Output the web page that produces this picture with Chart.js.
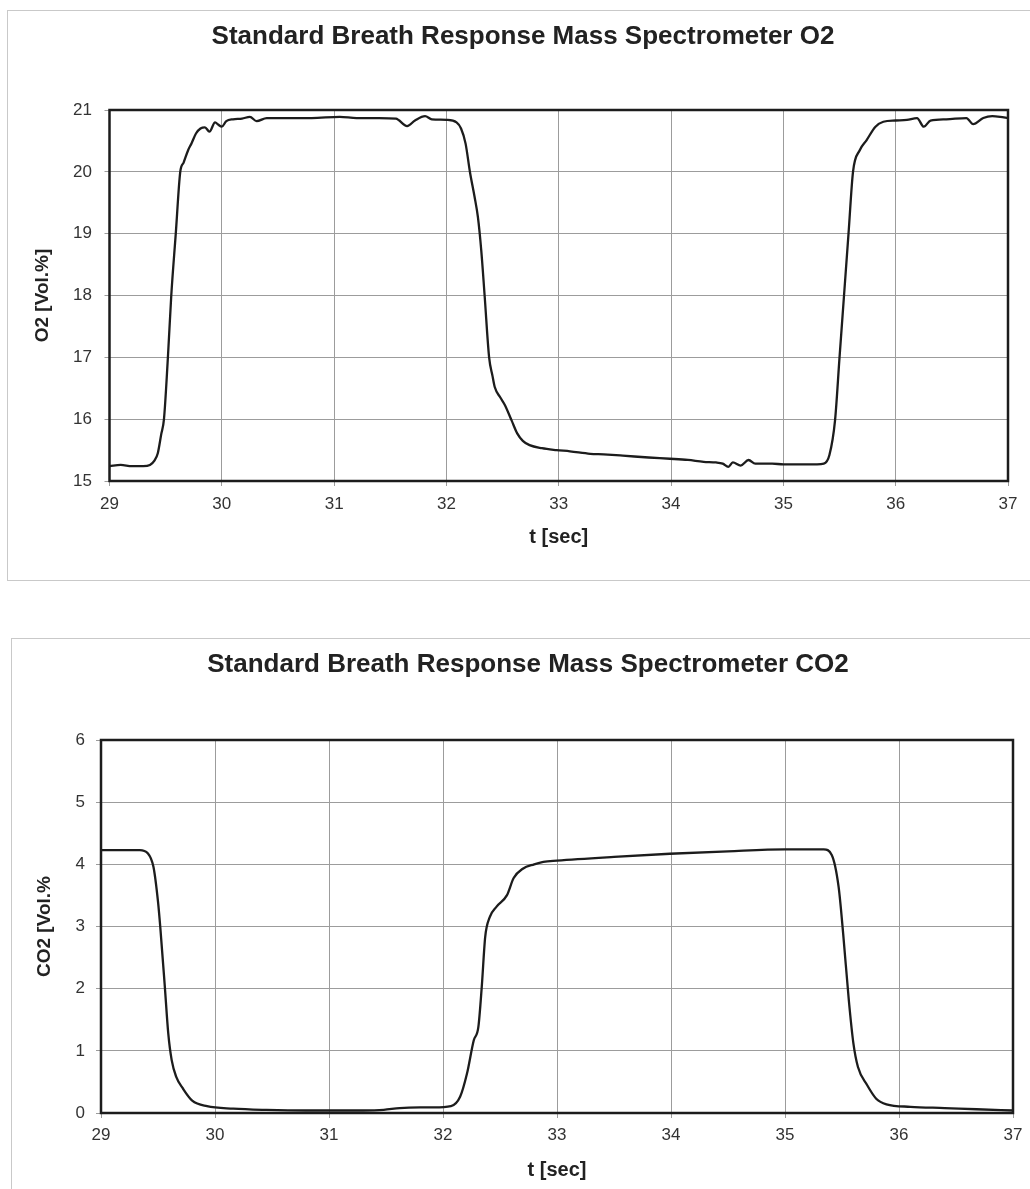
<!DOCTYPE html>
<html lang="en">
<head>
<meta charset="UTF-8">
<title>Standard Breath Response Mass Spectrometer</title>
<script src="https://cdn.jsdelivr.net/npm/chart.js@4.4.1/dist/chart.umd.min.js"></script>
<style>
    html, body { margin: 0; padding: 0; background: #fff; width: 1030px; height: 1189px; overflow: hidden; position: relative; }
    .panel { position: absolute; border: 1.5px solid #c9c9c9; background: #fff; }
    #panelO2 { left: 7px; top: 10px; width: 1040px; height: 569px; }
    #panelCO2 { left: 11px; top: 638px; width: 1040px; height: 600px; }
    .wrap { position: absolute; left: 0; width: 1030px; }
    #wrapO2 { top: 0; height: 590px; }
    #wrapCO2 { top: 620px; height: 569px; }
</style>
</head>
<body>
<div class="panel" id="panelO2"></div>
<div class="panel" id="panelCO2"></div>
<div class="wrap" id="wrapO2"><canvas id="o2Chart"></canvas></div>
<div class="wrap" id="wrapCO2"><canvas id="co2Chart"></canvas></div>
<script>
// O2 trace (t in sec, O2 in Vol.%)
const o2Time = [29.00, 29.10, 29.20, 29.30, 29.36, 29.40, 29.43, 29.46, 29.485, 29.52, 29.55, 29.59, 29.63, 29.66, 29.70, 29.73, 29.77, 29.81, 29.85, 29.89, 29.94, 29.97, 30.00, 30.04, 30.10, 30.18, 30.25, 30.31, 30.40, 30.60, 30.80, 31.05, 31.20, 31.40, 31.55, 31.65, 31.72, 31.81, 31.87, 32.00, 32.09, 32.13, 32.17, 32.21, 32.25, 32.28, 32.31, 32.34, 32.38, 32.41, 32.43, 32.48, 32.52, 32.58, 32.63, 32.68, 32.74, 32.85, 32.98, 33.10, 33.28, 33.40, 33.57, 33.80, 33.99, 34.15, 34.29, 34.40, 34.46, 34.51, 34.55, 34.62, 34.69, 34.75, 34.90, 35.00, 35.15, 35.30, 35.36, 35.41, 35.46, 35.50, 35.54, 35.58, 35.62, 35.68, 35.74, 35.82, 35.89, 36.00, 36.10, 36.19, 36.25, 36.31, 36.45, 36.63, 36.69, 36.78, 36.86, 36.93, 37.00];
const o2Values = [15.24, 15.26, 15.24, 15.24, 15.26, 15.33, 15.45, 15.75, 16.0, 17.0, 18.0, 19.0, 20.0, 20.15, 20.35, 20.46, 20.62, 20.70, 20.72, 20.65, 20.80, 20.76, 20.73, 20.82, 20.85, 20.86, 20.89, 20.82, 20.87, 20.87, 20.87, 20.89, 20.87, 20.87, 20.86, 20.74, 20.83, 20.90, 20.85, 20.84, 20.80, 20.70, 20.46, 19.99, 19.60, 19.27, 18.73, 18.00, 17.00, 16.70, 16.52, 16.35, 16.23, 15.98, 15.77, 15.65, 15.58, 15.53, 15.50, 15.48, 15.44, 15.43, 15.41, 15.38, 15.36, 15.34, 15.31, 15.30, 15.28, 15.23, 15.30, 15.25, 15.34, 15.28, 15.28, 15.27, 15.27, 15.27, 15.28, 15.42, 15.98, 17.0, 18.0, 19.0, 20.0, 20.35, 20.51, 20.73, 20.81, 20.83, 20.84, 20.87, 20.73, 20.83, 20.85, 20.87, 20.77, 20.87, 20.90, 20.89, 20.87];

// CO2 trace (t in sec, CO2 in Vol.%)
const co2Time = [29.00, 29.20, 29.34, 29.41, 29.46, 29.50, 29.52, 29.56, 29.59, 29.62, 29.66, 29.72, 29.80, 29.93, 30.16, 30.45, 30.80, 31.04, 31.30, 31.48, 31.62, 31.80, 31.92, 32.07, 32.15, 32.21, 32.27, 32.31, 32.34, 32.37, 32.41, 32.47, 32.56, 32.62, 32.70, 32.80, 32.88, 33.00, 33.50, 33.99, 34.50, 35.00, 35.34, 35.41, 35.47, 35.51, 35.56, 35.60, 35.64, 35.72, 35.80, 35.89, 36.10, 36.40, 36.68, 37.00];
const co2Values = [4.23, 4.23, 4.23, 4.18, 3.96, 3.40, 2.99, 2.03, 1.28, 0.85, 0.58, 0.39, 0.20, 0.11, 0.07, 0.05, 0.04, 0.04, 0.04, 0.05, 0.08, 0.09, 0.09, 0.11, 0.26, 0.63, 1.17, 1.38, 2.03, 2.83, 3.15, 3.32, 3.50, 3.78, 3.93, 4.00, 4.04, 4.06, 4.12, 4.17, 4.21, 4.24, 4.24, 4.15, 3.64, 2.89, 1.81, 1.12, 0.74, 0.45, 0.23, 0.14, 0.10, 0.08, 0.06, 0.04];

const tMin = 29, tMax = 37;

Chart.defaults.font.family = "'Liberation Sans', Arial, sans-serif";
Chart.defaults.color = '#333';

// black frame round the plot area, like the spreadsheet original
const plotFrame = {
    id: 'plotFrame',
    beforeDatasetsDraw(chart) {
        const { ctx, chartArea: a } = chart;
        ctx.save();
        ctx.strokeStyle = '#1c1c1c';
        ctx.lineWidth = 2.5;
        ctx.strokeRect(a.left, a.top, a.right - a.left, a.bottom - a.top);
        ctx.restore();
    }
};

function makeChart(id, cfg) {
    const points = cfg.time.map((t, i) => ({ x: t, y: cfg.values[i] }));
    return new Chart(document.getElementById(id), {
        type: 'scatter',
        data: {
            datasets: [{
                data: points,
                showLine: true,
                borderColor: '#1c1c1c',
                borderWidth: 2.3,
                pointRadius: 0,
                cubicInterpolationMode: 'monotone'
            }]
        },
        options: {
            responsive: true,
            maintainAspectRatio: false,
            animation: false,
            events: [],
            layout: { padding: cfg.padding },
            plugins: {
                legend: { display: false },
                tooltip: { enabled: false },
                title: {
                    display: true,
                    text: cfg.title,
                    color: '#222',
                    font: { size: 26, weight: 'bold' },
                    padding: cfg.titlePad
                }
            },
            scales: {
                x: {
                    type: 'linear',
                    min: tMin,
                    max: tMax,
                    afterFit: s => { s.height = cfg.xHeight; },
                    ticks: { stepSize: 1, padding: cfg.xTickPad, font: { size: 17 }, color: '#333' },
                    grid: { color: '#9c9c9c', lineWidth: 1, tickLength: 5 },
                    border: { display: false },
                    title: { display: true, text: 't [sec]', color: '#222', font: { size: 20, weight: 'bold' }, padding: { top: 0, bottom: cfg.xTitlePad } }
                },
                y: {
                    min: cfg.yMin,
                    max: cfg.yMax,
                    afterFit: s => { s.width = cfg.yWidth; },
                    ticks: { stepSize: 1, padding: cfg.yTickPad, font: { size: 17 }, color: '#333' },
                    grid: { color: '#9c9c9c', lineWidth: 1, tickLength: 5 },
                    border: { display: false },
                    title: { display: true, text: cfg.yTitle, color: '#222', font: { size: 19, weight: 'bold' }, padding: { top: cfg.yTitlePad, bottom: 0 } }
                }
            }
        },
        plugins: [plotFrame]
    });
}

makeChart('o2Chart', {
    time: o2Time, values: o2Values,
    title: 'Standard Breath Response Mass Spectrometer O2',
    yTitle: 'O2 [Vol.%]',
    yMin: 15, yMax: 21,
    padding: { left: 38, right: 22, top: 0, bottom: 9 },
    titlePad: { top: 21.4, bottom: 57.4 },
    yWidth: 71.5, yTitlePad: -6.4, yTickPad: 12.5,
    xHeight: 100, xTitlePad: 32, xTickPad: 7.8
});

makeChart('co2Chart', {
    time: co2Time, values: co2Values,
    title: 'Standard Breath Response Mass Spectrometer CO2',
    yTitle: 'CO2 [Vol.%',
    yMin: 0, yMax: 6,
    padding: { left: 43, right: 17, top: 0, bottom: 6 },
    titlePad: { top: 29.4, bottom: 59.4 },
    yWidth: 58, yTitlePad: -9.4, yTickPad: 11,
    xHeight: 70, xTitlePad: 1, xTickPad: 6.8
});
</script>
</body>
</html>
